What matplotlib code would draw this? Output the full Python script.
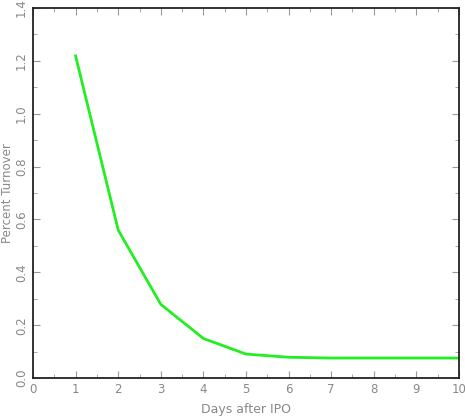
import matplotlib
matplotlib.use("Agg")
import matplotlib.pyplot as plt
from matplotlib.ticker import MultipleLocator

days = [1, 2, 3, 4, 5, 6, 7, 8, 9, 10]
turnover = [1.218, 0.56, 0.279, 0.150, 0.091, 0.079, 0.076, 0.076, 0.076, 0.076]

fig = plt.figure(figsize=(4.65, 4.16), dpi=100)
ax = fig.add_axes([0.071, 0.091, 0.916, 0.89])

ax.plot(days, turnover, color="#22ee22", linewidth=2.0)

ax.set_xlim(0, 10)
ax.set_ylim(0, 1.4)
ax.xaxis.set_major_locator(MultipleLocator(1))
ax.xaxis.set_minor_locator(MultipleLocator(0.5))
ax.yaxis.set_major_locator(MultipleLocator(0.2))
ax.yaxis.set_minor_locator(MultipleLocator(0.1))

grey = "#888888"
ax.tick_params(which="both", direction="in", top=True, right=True,
               colors="#999999", labelcolor=grey, labelsize=8.5)
ax.tick_params(which="major", length=5)
ax.tick_params(which="minor", length=3)
ax.set_yticks(ax.get_yticks())
ax.set_yticklabels([f"{v:.1f}" for v in ax.get_yticks()], rotation=90, va="center")
ax.set_ylim(0, 1.4)
for s in ax.spines.values():
    s.set_color("#222222")
    s.set_linewidth(1.3)

ax.set_xlabel("Days after IPO", color=grey, fontsize=9, labelpad=5)
ax.set_ylabel("Percent Turnover", color=grey, fontsize=8.5)
ax.yaxis.set_label_coords(-0.045, 0.5)

fig.savefig("out.png", dpi=100)
